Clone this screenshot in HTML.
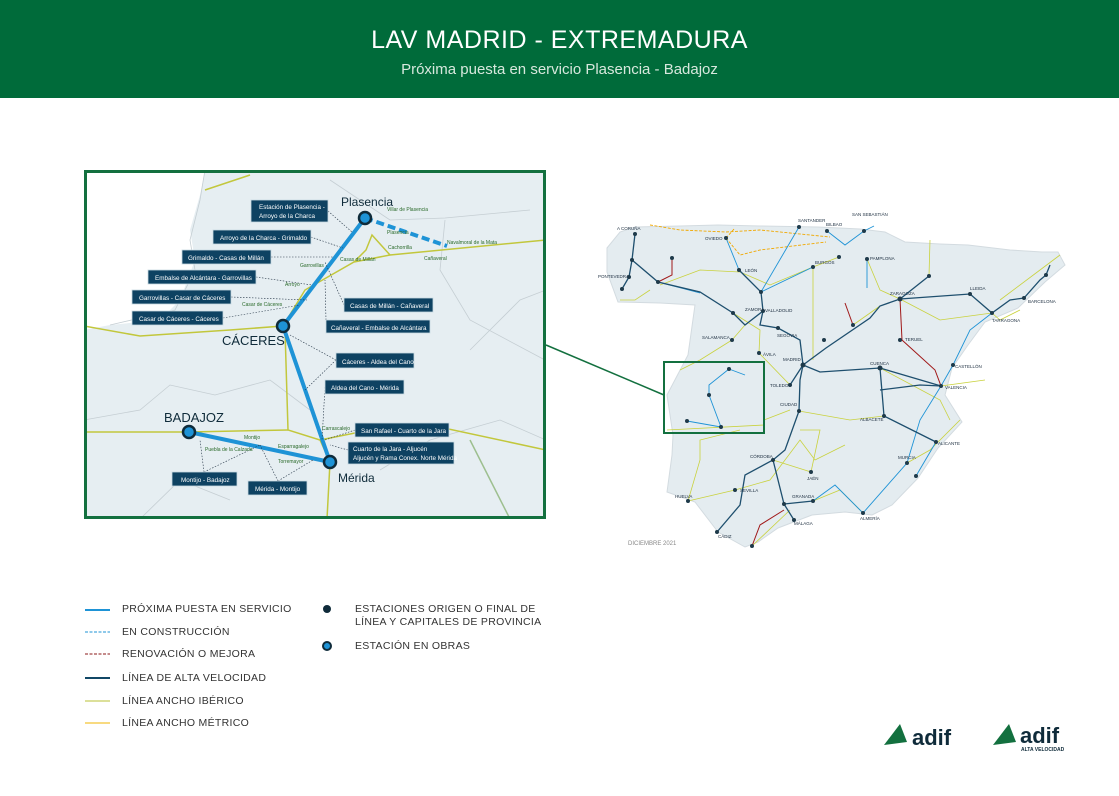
<!DOCTYPE html>
<html><head><meta charset="utf-8"><style>
html,body{margin:0;padding:0;background:#fff;}
body{width:1119px;height:796px;position:relative;overflow:hidden;font-family:"Liberation Sans",sans-serif;}
.hdr{position:absolute;left:0;top:0;width:1119px;height:98px;background:#006b3a;color:#fff;text-align:center;}
.t1{position:absolute;left:0;right:0;top:26px;font-size:25px;letter-spacing:0.5px;}
.t2{position:absolute;left:0;right:0;top:61px;font-size:15px;color:#d7e8dd;}
.lg{position:absolute;font-size:10.5px;color:#333;letter-spacing:0.3px;}
</style></head><body>
<div class="hdr"><div class="t1">LAV MADRID - EXTREMADURA</div><div class="t2">Próxima puesta en servicio Plasencia - Badajoz</div></div>
<svg width="1119" height="796" style="position:absolute;left:0;top:0" font-family="Liberation Sans, sans-serif">
<!-- spain map -->
<polygon points="607,248 620,232 635,227 680,226 718,225 760,226 818,227 860,229 885,232 905,242 940,244 968,245 1010,250 1042,252 1058,252 1065,265 1045,282 1018,308 985,322 968,345 952,368 945,395 962,422 938,448 918,478 892,505 872,515 845,512 812,515 778,528 758,542 745,547 718,532 695,502 667,492 672,455 673,435 667,395 688,355 695,305 660,303 618,302 607,272" fill="#e4ecf0" stroke="#d3dbe0" stroke-width="1"/>
<g stroke="#c9d23e" stroke-width="0.8" fill="none">
<path d="M733,313 L760,330 L759,353 L790,385"/><path d="M732,340 L745,325"/><path d="M732,340 L700,360 L680,370"/><path d="M813,267 L813,360"/><path d="M813,267 L839,257"/><path d="M813,267 L770,285 L740,272 L700,270 L660,285"/><path d="M867,259 L880,290 L900,299"/><path d="M929,276 L930,240"/><path d="M900,299 L940,320 L992,313"/><path d="M853,325 L880,306"/><path d="M941,386 L985,380"/><path d="M880,368 L940,400 L950,420"/><path d="M799,411 L850,420 L884,416"/><path d="M773,460 L811,472 L820,430 L800,430"/><path d="M735,490 L688,501"/><path d="M735,490 L770,480 L800,440 L815,460 L845,445"/><path d="M688,501 L700,460 L700,440 L740,430"/><path d="M764,420 L790,410"/><path d="M667,430 L764,425"/><path d="M907,463 L930,450 L960,420"/><path d="M650,290 L635,300 L620,300"/><path d="M813,501 L840,490 L863,513"/><path d="M752,546 L790,510"/><path d="M1000,300 L1040,270 L1060,255"/><path d="M970,294 L1000,320 L1020,310"/></g>
<g stroke="#f0a800" stroke-width="0.9" stroke-dasharray="3,1.5" fill="none"><path d="M650,225 L680,230 L726,232 L760,230 L830,237"/><path d="M726,238 L740,255 L760,250 L826,242"/><path d="M726,238 L735,228"/></g>
<g stroke="#a01818" stroke-width="1" fill="none"><path d="M658,282 L672,275 L672,258"/><path d="M900,299 L902,340 L935,370 L941,386"/><path d="M845,303 L853,325"/><path d="M752,546 L760,525 L784,510"/></g>
<g stroke="#1e93d6" stroke-width="0.9" fill="none"><path d="M658,282 L700,293"/><path d="M739,270 L726,238"/><path d="M761,292 L799,227"/><path d="M761,292 L813,267"/><path d="M827,231 L845,245 L864,231 L874,226"/><path d="M867,259 L867,288"/><path d="M941,386 L953,365 L970,330 L992,313"/><path d="M936,442 L916,476"/><path d="M941,386 L920,420 L907,463 L863,513 L835,485 L813,501"/><path d="M729,369 L745,375"/><path d="M729,369 L709,385 L709,395 L721,427 L687,421"/></g>
<g stroke="#1e4f6e" stroke-width="1.3" fill="none">
<path d="M803,365 L800,340 L778,328 L760,325 L763,311 L761,292 L739,270"/>
<path d="M803,365 L826,348 L870,318 L880,306 L900,299 L970,294 L992,313 L1010,300 L1024,298 L1040,280 L1046,275 L1050,265"/>
<path d="M803,365 L820,372 L880,368 L941,386"/><path d="M880,368 L884,416 L936,442"/><path d="M880,390 L920,385 L941,386"/>
<path d="M803,365 L800,380 L799,411 L785,450 L773,460 L745,475 L740,505 L717,532"/>
<path d="M773,460 L784,504 L794,520"/><path d="M784,504 L813,501"/>
<path d="M763,311 L745,325 L733,313 L700,292 L658,282 L632,260 L635,234"/><path d="M632,260 L629,277 L622,289"/>
<path d="M900,299 L929,276"/><path d="M790,385 L803,365"/></g>
<g fill="#1e3a4a"><circle cx="635" cy="234" r="2"/><circle cx="632" cy="260" r="2"/><circle cx="658" cy="282" r="2"/><circle cx="629" cy="277" r="2"/><circle cx="622" cy="289" r="2"/><circle cx="672" cy="258" r="2"/><circle cx="726" cy="238" r="2"/><circle cx="739" cy="270" r="2"/><circle cx="761" cy="292" r="2"/><circle cx="733" cy="313" r="2"/><circle cx="763" cy="311" r="2"/><circle cx="778" cy="328" r="2"/><circle cx="759" cy="353" r="2"/><circle cx="732" cy="340" r="2"/><circle cx="813" cy="267" r="2"/><circle cx="799" cy="227" r="2"/><circle cx="827" cy="231" r="2"/><circle cx="839" cy="257" r="2"/><circle cx="864" cy="231" r="2"/><circle cx="867" cy="259" r="2"/><circle cx="929" cy="276" r="2"/><circle cx="900" cy="299" r="2.5"/><circle cx="970" cy="294" r="2"/><circle cx="1024" cy="298" r="2"/><circle cx="1046" cy="275" r="2"/><circle cx="992" cy="313" r="2"/><circle cx="853" cy="325" r="2"/><circle cx="900" cy="340" r="2"/><circle cx="824" cy="340" r="2"/><circle cx="803" cy="365" r="2.5"/><circle cx="790" cy="385" r="2"/><circle cx="880" cy="368" r="2.5"/><circle cx="941" cy="386" r="2"/><circle cx="953" cy="365" r="2"/><circle cx="799" cy="411" r="2"/><circle cx="884" cy="416" r="2"/><circle cx="936" cy="442" r="2"/><circle cx="907" cy="463" r="2"/><circle cx="916" cy="476" r="2"/><circle cx="773" cy="460" r="2"/><circle cx="811" cy="472" r="2"/><circle cx="735" cy="490" r="2"/><circle cx="688" cy="501" r="2"/><circle cx="717" cy="532" r="2"/><circle cx="752" cy="546" r="2"/><circle cx="794" cy="520" r="2"/><circle cx="784" cy="504" r="2"/><circle cx="813" cy="501" r="2"/><circle cx="863" cy="513" r="2"/><circle cx="687" cy="421" r="2"/><circle cx="709" cy="395" r="2"/><circle cx="729" cy="369" r="2"/><circle cx="721" cy="427" r="2"/></g>
<g font-size="4.5" fill="#234"><text x="617" y="230">A CORUÑA</text><text x="598" y="278">PONTEVEDRA</text><text x="745" y="272">LEÓN</text><text x="705" y="240">OVIEDO</text><text x="798" y="222">SANTANDER</text><text x="826" y="226">BILBAO</text><text x="852" y="216">SAN SEBASTIÁN</text><text x="870" y="260">PAMPLONA</text><text x="890" y="295">ZARAGOZA</text><text x="970" y="290">LLEIDA</text><text x="1028" y="303">BARCELONA</text><text x="992" y="322">TARRAGONA</text><text x="905" y="341">TERUEL</text><text x="955" y="368">CASTELLÓN</text><text x="945" y="389">VALENCIA</text><text x="870" y="365">CUENCA</text><text x="770" y="387">TOLEDO</text><text x="780" y="406">CIUDAD</text><text x="860" y="421">ALBACETE</text><text x="938" y="445">ALICANTE</text><text x="898" y="459">MURCIA</text><text x="750" y="458">CÓRDOBA</text><text x="807" y="480">JAÉN</text><text x="740" y="492">SEVILLA</text><text x="675" y="498">HUELVA</text><text x="718" y="538">CÁDIZ</text><text x="794" y="525">MÁLAGA</text><text x="792" y="498">GRANADA</text><text x="860" y="520">ALMERÍA</text><text x="745" y="311">ZAMORA</text><text x="765" y="312">VALLADOLID</text><text x="702" y="339">SALAMANCA</text><text x="763" y="356">ÁVILA</text><text x="783" y="361">MADRID</text><text x="777" y="337">SEGOVIA</text><text x="815" y="264">BURGOS</text></g>
<rect x="664" y="362" width="100" height="71" fill="none" stroke="#13703f" stroke-width="2"/>
<line x1="546" y1="345" x2="664" y2="395" stroke="#13703f" stroke-width="1.5"/>
<text x="628" y="545" font-size="6" fill="#888">DICIEMBRE 2021</text>
<!-- inset -->
<clipPath id="c"><rect x="84" y="170" width="462" height="349"/></clipPath>
<g clip-path="url(#c)">
<rect x="84" y="170" width="462" height="349" fill="#e6eef2"/>
<polygon points="84,170 205,170 200,195 190,230 195,260 180,300 160,320 110,325 84,330" fill="#fff"/>
<g stroke="#c5ced3" stroke-width="0.8" fill="none">
<path d="M205,170 L200,200 L190,240 L195,270 L175,310 L110,325"/><path d="M84,420 L140,410 L170,385 L215,395 L270,380 L310,410"/>
<path d="M330,180 L390,220 L445,218 L530,210"/><path d="M445,220 L440,270 L470,320 L545,360"/><path d="M380,470 L430,440 L500,420 L546,440"/><path d="M140,519 L180,480 L230,500"/><path d="M470,350 L520,300 L546,290"/>
</g>
<g stroke="#c2c73c" stroke-width="1.5" fill="none">
<path d="M84,326 L140,336 L230,330 L283,326"/><path d="M283,326 L285,330 L288,430 L320,440 L330,462 L327,519"/>
<path d="M84,432 L189,432 L288,430"/><path d="M320,440 L360,432 L400,427 L430,425 L546,450"/>
<path d="M283,326 L305,290 L354,262 L390,255 L546,240"/><path d="M354,262 L366,250 L372,235 L390,255"/><path d="M205,190 L250,175"/>
</g>
<path d="M470,440 L510,519" stroke="#9dbf8f" stroke-width="1.5"/>
<path d="M365,218 L283,326 L330,462 L189,432" stroke="#1e93d6" stroke-width="4" fill="none"/>
<path d="M365,218 L447,246" stroke="#1e93d6" stroke-width="4" stroke-dasharray="8,4" fill="none"/>
<g fill="#1e93d6" stroke="#0f2b3a" stroke-width="2.5"><circle cx="365" cy="218" r="6"/><circle cx="283" cy="326" r="6"/><circle cx="189" cy="432" r="6"/><circle cx="330" cy="462" r="6"/></g>
<g fill="#0f2b3a" font-size="12"><text x="341" y="206">Plasencia</text><text x="222" y="345" font-size="13">CÁCERES</text><text x="164" y="422" font-size="13">BADAJOZ</text><text x="338" y="482">Mérida</text></g>
<g stroke="#234" stroke-width="0.6" stroke-dasharray="1.5,1.5" fill="none">
<path d="M328,211 L352,232"/><path d="M311,237 L343,248"/><path d="M271,257 L333,257"/><path d="M256,277 L312,285"/><path d="M231,297 L307,300"/><path d="M223,318 L300,305"/><path d="M344,305 L325,262"/><path d="M326,320 L325,280"/><path d="M336,360 L290,335"/><path d="M336,360 L305,390"/><path d="M325,387 L322,440"/><path d="M355,430 L325,440"/><path d="M348,450 L330,445"/><path d="M204,472 L200,440"/><path d="M204,472 L260,445"/><path d="M278,481 L260,445"/><path d="M278,481 L313,460"/>
</g>
<g fill="#0e4262" stroke="#c9d9e2" stroke-width="0.8">
<rect x="251" y="200" width="77" height="22"/><rect x="213" y="230" width="98" height="14"/><rect x="182" y="250" width="89" height="14"/><rect x="148" y="270" width="108" height="14"/><rect x="132" y="290" width="99" height="14"/><rect x="132" y="311" width="91" height="14"/><rect x="344" y="298" width="89" height="14"/><rect x="326" y="320" width="104" height="13"/><rect x="336" y="353" width="78" height="15"/><rect x="325" y="380" width="79" height="14"/><rect x="355" y="423" width="94" height="14"/><rect x="348" y="442" width="106" height="22"/><rect x="172" y="472" width="65" height="14"/><rect x="248" y="481" width="59" height="14"/>
</g>
<g fill="#fff" font-size="6.3">
<text x="259" y="209">Estación de Plasencia -</text><text x="259" y="218">Arroyo de la Charca</text>
<text x="220" y="240">Arroyo de la Charca - Grimaldo</text><text x="188" y="260">Grimaldo - Casas de Millán</text>
<text x="155" y="280">Embalse de Alcántara - Garrovillas</text><text x="139" y="300">Garrovillas - Casar de Cáceres</text>
<text x="139" y="321">Casar de Cáceres - Cáceres</text><text x="350" y="308">Casas de Millán - Cañaveral</text>
<text x="331" y="330">Cañaveral - Embalse de Alcántara</text><text x="342" y="364">Cáceres - Aldea del Cano</text>
<text x="331" y="390">Aldea del Cano - Mérida</text><text x="361" y="433">San Rafael - Cuarto de la Jara</text>
<text x="353" y="451">Cuarto de la Jara - Aljucén</text><text x="353" y="460">Aljucén y Rama Conex. Norte Mérida</text>
<text x="181" y="482">Montijo - Badajoz</text><text x="255" y="491">Mérida - Montijo</text>
</g>
<g fill="#2a6a2a" font-size="5"><text x="387" y="211">Villar de Plasencia</text><text x="387" y="234">Plasencia</text><text x="388" y="249">Cachorrilla</text><text x="447" y="244">Navalmoral de la Mata</text><text x="424" y="260">Cañaveral</text><text x="340" y="261">Casas de Millán</text><text x="300" y="267">Garrovillas</text><text x="285" y="286">Arroyo</text><text x="242" y="306">Casar de Cáceres</text><text x="322" y="430">Carrascalejo</text><text x="244" y="439">Montijo</text><text x="205" y="451">Puebla de la Calzada</text><text x="278" y="448">Esparragalejo</text><text x="278" y="463">Torremayor</text></g>
</g>
<rect x="85.5" y="171.5" width="459" height="346" fill="none" stroke="#13703f" stroke-width="3"/>
<!-- legend -->
<line x1="85" y1="610" x2="110" y2="610" stroke="#1e93d6" stroke-width="2"/>
<line x1="85" y1="632" x2="110" y2="632" stroke="#1e93d6" stroke-width="1" stroke-dasharray="3,1.5"/>
<line x1="85" y1="654" x2="110" y2="654" stroke="#8b1a1a" stroke-width="1" stroke-dasharray="3,1.5"/>
<line x1="85" y1="678" x2="110" y2="678" stroke="#114766" stroke-width="2"/>
<line x1="85" y1="701" x2="110" y2="701" stroke="#b9c234" stroke-width="1"/>
<line x1="85" y1="723" x2="110" y2="723" stroke="#f0b400" stroke-width="1"/>
<circle cx="327" cy="609" r="4" fill="#0f2b3a"/>
<circle cx="327" cy="646" r="4" fill="#1e93d6" stroke="#0f2b3a" stroke-width="2"/>
<!-- logos -->
<path d="M884,745 L900,724 L907,742 Z" fill="#13703f"/><path d="M993,745 L1009,724 L1016,742 Z" fill="#13703f"/>
<g fill="#0f2b3a" font-weight="bold" font-size="22"><text x="912" y="745">adif</text><text x="1020" y="743">adif</text></g>
<text x="1021" y="751" font-size="5" font-weight="bold" fill="#0f2b3a">ALTA VELOCIDAD</text>
</svg>
<div class="lg" style="left:122px;top:603px">PRÓXIMA PUESTA EN SERVICIO</div>
<div class="lg" style="left:122px;top:626px">EN CONSTRUCCIÓN</div>
<div class="lg" style="left:122px;top:648px">RENOVACIÓN O MEJORA</div>
<div class="lg" style="left:122px;top:672px">LÍNEA DE ALTA VELOCIDAD</div>
<div class="lg" style="left:122px;top:695px">LÍNEA ANCHO IBÉRICO</div>
<div class="lg" style="left:122px;top:717px">LÍNEA ANCHO MÉTRICO</div>
<div class="lg" style="left:355px;top:603px;line-height:13px">ESTACIONES ORIGEN O FINAL DE<br>LÍNEA Y CAPITALES DE PROVINCIA</div>
<div class="lg" style="left:355px;top:640px">ESTACIÓN EN OBRAS</div>
</body></html>
